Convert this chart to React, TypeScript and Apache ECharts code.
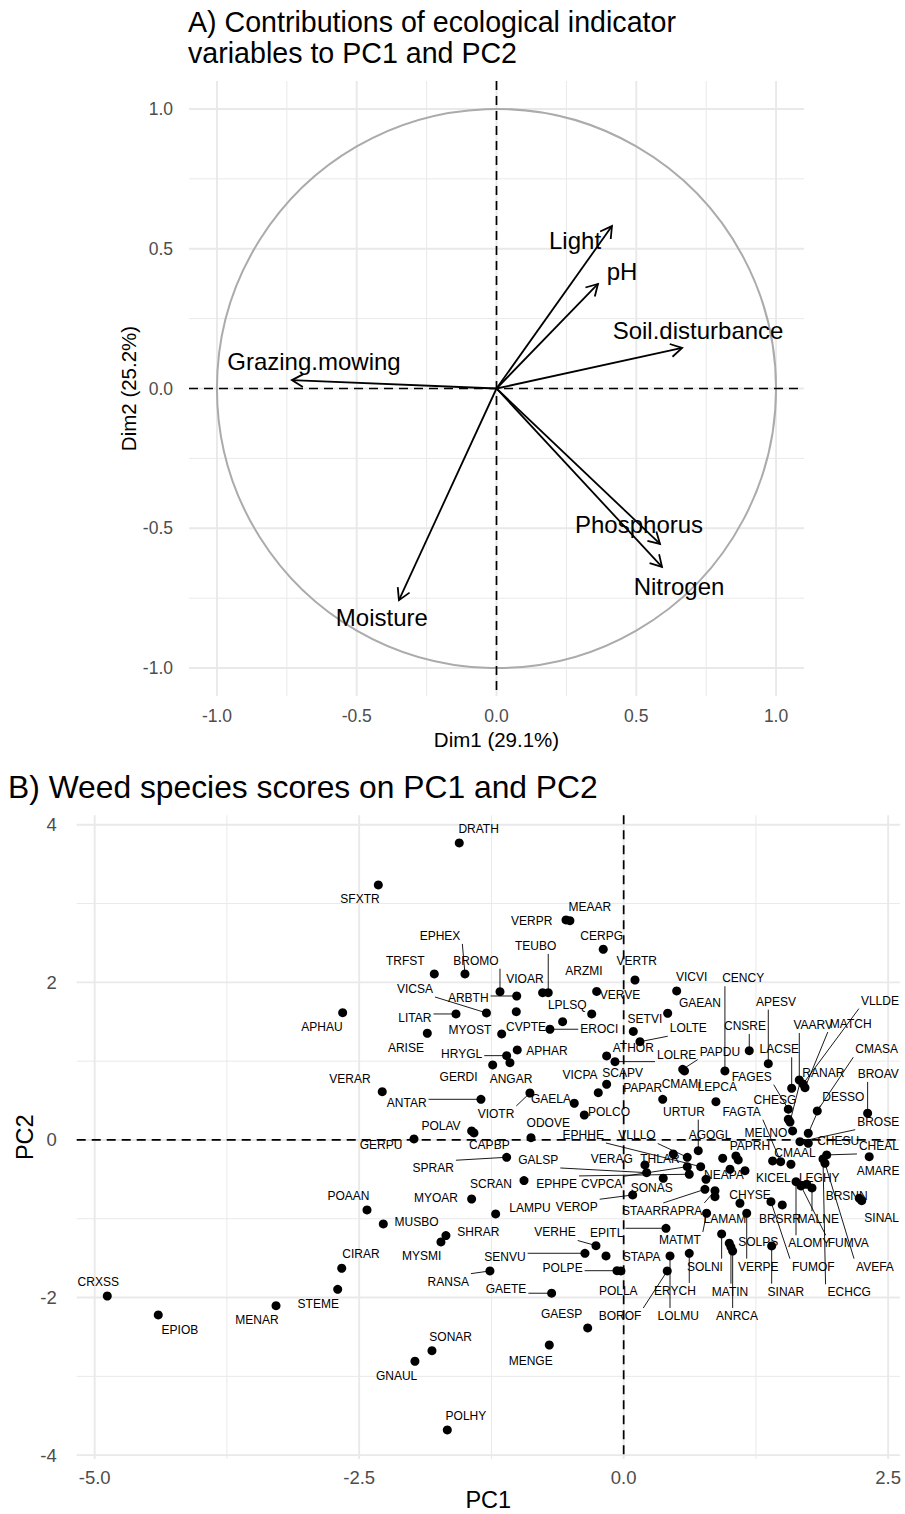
import React, { useEffect, useRef } from "react";
import * as echarts from "echarts";

// ---------- Panel A: variable contributions ----------
const varNames = ["Light", "pH", "Soil.disturbance", "Grazing.mowing", "Phosphorus", "Nitrogen", "Moisture"];
const varDim1 = [0.413, 0.363, 0.664, -0.732, 0.585, 0.592, -0.349];
const varDim2 = [0.581, 0.374, 0.145, 0.03, -0.556, -0.638, -0.757];
const varLabelDim1 = [0.281, 0.449, 0.721, -0.653, 0.51, 0.653, -0.41];
const varLabelDim2 = [0.531, 0.417, 0.209, 0.098, -0.488, -0.707, -0.818];
const dimTicks = [-1, -0.5, 0, 0.5, 1];
const dimMinorTicks = [-0.75, -0.25, 0.25, 0.75];

// ---------- Panel B: species scores ----------
const species = [
  "DRATH", "SFXTR", "VERPR", "MEAAR", "CERPG", "EPHEX", "TRFST", "BROMO", "TEUBO", "VIOAR",
  "ARZMI", "VERVE", "VERTR", "VICVI", "GAEAN", "ARBTH", "VICSA", "LITAR", "APHAU", "CVPTE",
  "MYOST", "LPLSQ", "EROCI", "SETVI", "LOLTE", "ARISE", "HRYGL", "APHAR", "ANGAR", "GERDI",
  "VERAR", "ANTAR", "VIOTR", "GAELA", "VICPA", "SCAPV", "ATHOR", "LOLRE", "PAPDU", "CENCY",
  "CNSRE", "APESV", "LACSE", "VAARV", "MATCH", "VLLDE", "CMASA", "RANAR", "FAGES", "BROAV",
  "CHESG", "DESSO", "BROSE", "MELNO", "CHESU", "CHEAL", "AMARE", "CMAMI", "PAPAR", "LEPCA",
  "URTUR", "FAGTA", "POLCO", "ODOVE", "POLAV", "CAPBP", "GERPU", "EPHHE", "VLLLO", "AGOGL",
  "PAPRH", "CMAAL", "SPRAR", "GALSP", "VERAG", "THLAR", "NEAPA", "KICEL", "LEGHY", "SCRAN",
  "EPHPE", "CVPCA", "SONAS", "CHYSE", "BRSNN", "POAAN", "MYOAR", "LAMPU", "VEROP", "STAAR",
  "RAPRA", "LAMAM", "BRSRR", "MALNE", "SINAL", "MUSBO", "SHRAR", "VERHE", "EPITL", "MATMT",
  "SOLPS", "ALOMY", "FUMVA", "CIRAR", "MYSMI", "SENVU", "STAPA", "SOLNI", "VERPE", "FUMOF",
  "AVEFA", "CRXSS", "POLPE", "RANSA", "GAETE", "POLLA", "ERYCH", "MATIN", "SINAR", "ECHCG",
  "EPIOB", "MENAR", "STEME", "GAESP", "BOROF", "LOLMU", "ANRCA", "SONAR", "MENGE", "GNAUL",
  "POLHY", "", "", "",
];
const pc1 = [
  -1.554, -2.319, -0.545, -0.508, -0.193, -1.5, -1.79, -1.169, -0.713, -0.766,
  -0.255, -0.302, 0.107, 0.501, 0.416, -1.011, -1.297, -1.585, -2.656, -1.015,
  -1.153, -0.577, -0.697, 0.091, 0.154, -1.856, -1.106, -1.006, -1.075, -1.238,
  -2.282, -1.349, -0.886, -0.467, -0.24, -0.161, -0.161, -0.082, 0.558, 0.957,
  1.187, 1.367, 1.588, 1.66, 1.714, 1.695, 1.83, 1.572, 1.556, 2.306,
  1.556, 1.745, 1.666, 1.597, 1.745, 1.919, 2.321, 0.575, 0.369, 0.872,
  0.705, 1.484, -0.372, -0.876, -1.437, -1.415, -1.982, 0.728, 0.601, 0.936,
  1.061, 1.581, -1.106, 0.217, 0.201, 0.469, 0.778, 1.408, 1.73, -0.942,
  0.62, 0.601, 0.374, 1.099, 2.227, -2.426, -1.437, -1.21, 0.085, 0.768,
  0.863, 0.863, 1.499, 1.78, 2.25, -2.272, -1.68, -0.262, 0.4, 0.784,
  0.998, 1.629, 1.676, -2.665, -1.727, -0.366, -0.167, 0.926, 1.163, 1.392,
  1.903, -4.881, -0.063, -1.264, -0.681, -0.026, 0.62, 1.014, 1.399, 1.884,
  -4.399, -3.286, -2.703, -0.34, 0.412, 0.438, 1.03, -1.812, -0.703, -1.973,
  -1.667, 1.083, 1.005, 1.147,
];
const pc2 = [
  3.769, 3.236, 2.792, 2.783, 2.42, 2.107, 2.107, 1.882, 1.869, 1.869,
  1.885, 1.599, 2.03, 1.891, 1.608, 1.827, 1.612, 1.599, 1.615, 1.628,
  1.345, 1.501, 1.405, 1.377, 1.247, 1.354, 1.07, 1.142, 0.981, 0.952,
  0.613, 0.516, 0.596, 0.466, 0.6, 0.707, 1.066, 0.994, 0.897, 0.876,
  1.133, 0.968, 0.656, 0.761, 0.664, 0.711, 0.368, 0.228, 0.39, 0.339,
  0.263, 0.085, -0.022, 0.114, -0.042, -0.19, -0.212, 0.876, 0.516, 0.486,
  -0.136, -0.275, 0.317, 0.029, 0.114, 0.089, 0.013, -0.339, -0.22, -0.232,
  -0.203, -0.308, -0.22, -0.415, -0.317, -0.178, -0.499, -0.266, -0.562, -0.516,
  -0.435, -0.339, -0.486, -0.803, -0.74, -0.888, -0.749, -0.939, -0.698, -0.626,
  -0.643, -0.72, -0.825, -0.609, -0.77, -1.066, -1.214, -1.341, -1.121, -0.93,
  -1.311, -0.529, -0.584, -1.628, -1.294, -1.438, -1.472, -1.193, -0.93, -0.783,
  -0.296, -1.98, -1.659, -1.662, -1.945, -1.662, -1.438, -1.358, -1.345, -0.241,
  -2.221, -2.103, -1.895, -2.386, -1.662, -1.472, -1.409, -2.674, -2.602, -2.808,
  -3.68, -0.254, -0.372, -0.39,
];
const labelPc1 = [
  -1.371, -2.492, -0.87, -0.319, -0.208, -1.736, -2.064, -1.396, -0.832, -0.933,
  -0.375, -0.035, 0.123, 0.643, 0.721, -1.469, -1.973, -1.973, -2.852, -0.923,
  -1.453, -0.533, -0.231, 0.201, 0.611, -2.058, -1.531, -0.725, -1.065, -1.56,
  -2.587, -2.051, -1.207, -0.687, -0.413, -0.009, 0.091, 0.501, 0.91, 1.13,
  1.147, 1.44, 1.471, 1.792, 2.146, 2.422, 2.391, 1.887, 1.21, 2.406,
  1.43, 2.076, 2.406, 1.345, 2.028, 2.413, 2.406, 0.548, 0.18, 0.885,
  0.57, 1.115, -0.139, -0.713, -1.727, -1.27, -2.294, -0.382, 0.126, 0.816,
  1.194, 1.619, -1.8, -0.807, -0.113, 0.343, 0.948, 1.414, 1.849, -1.254,
  -0.633, -0.208, 0.265, 1.194, 2.108, -2.601, -1.774, -0.886, -0.444, 0.17,
  0.548, 0.957, 1.477, 1.839, 2.439, -1.957, -1.374, -0.649, -0.161, 0.532,
  1.272, 1.754, 2.123, -2.483, -1.909, -1.122, 0.17, 0.768, 1.272, 1.792,
  2.375, -4.966, -0.577, -1.658, -1.112, -0.051, 0.485, 1.005, 1.534, 2.132,
  -4.194, -3.466, -2.887, -0.586, -0.035, 0.516, 1.071, -1.635, -0.879, -2.146,
  -1.491, 1.083, 1.005, 1.147,
];
const labelPc2 = [
  3.947, 3.058, 2.779, 2.961, 2.589, 2.589, 2.275, 2.275, 2.462, 2.043,
  2.148, 1.84, 2.275, 2.065, 1.739, 1.798, 1.916, 1.544, 1.434, 1.438,
  1.396, 1.713, 1.405, 1.532, 1.418, 1.171, 1.091, 1.133, 0.77, 0.799,
  0.77, 0.473, 0.33, 0.516, 0.825, 0.854, 1.164, 1.079, 1.121, 2.052,
  1.447, 1.755, 1.151, 1.459, 1.472, 1.768, 1.151, 0.846, 0.803, 0.838,
  0.508, 0.539, 0.232, 0.093, -0.009, -0.076, -0.393, 0.711, 0.664, 0.669,
  0.359, 0.359, 0.359, 0.212, 0.178, -0.063, -0.063, 0.063, 0.057, 0.057,
  -0.08, -0.169, -0.359, -0.254, -0.247, -0.245, -0.444, -0.486, -0.486, -0.558,
  -0.558, -0.562, -0.613, -0.698, -0.711, -0.711, -0.732, -0.863, -0.854, -0.901,
  -0.901, -1.006, -1.006, -1.006, -0.994, -1.037, -1.171, -1.174, -1.176, -1.269,
  -1.291, -1.311, -1.311, -1.451, -1.468, -1.489, -1.481, -1.608, -1.608, -1.608,
  -1.608, -1.806, -1.628, -1.798, -1.895, -1.916, -1.916, -1.925, -1.925, -1.933,
  -2.411, -2.284, -2.085, -2.208, -2.234, -2.234, -2.234, -2.496, -2.801, -2.995,
  -3.503, -0.254, -0.372, -0.39,
];
const pcXTicks = [-5, -2.5, 0, 2.5];
const pcXMinor = [-3.75, -1.25, 1.25];
const pcYTicks = [-4, -2, 0, 2, 4];
const pcYMinor = [-3, -1, 1, 3];

const FONT = '"Liberation Sans", Arial, sans-serif';
const GRID_COLOR = "#e9e9e9";

function measure(text: string, size: number): number {
  const ctx = document.createElement("canvas").getContext("2d");
  if (!ctx) return text.length * size * 0.66;
  ctx.font = `${size}px ${FONT}`;
  return ctx.measureText(text).width;
}

function lineSeries(idx: number, dir: "v" | "h", values: number[], color: string, width: number, z: number, dash?: number[]) {
  return {
    type: "custom",
    xAxisIndex: idx,
    yAxisIndex: idx,
    silent: true,
    z,
    data: values.map((v) => (dir === "v" ? [v, 0] : [0, v])),
    renderItem: (params: any, api: any) => {
      const cs = params.coordSys;
      const p = api.coord([api.value(0), api.value(1)]);
      const shape =
        dir === "v"
          ? { x1: p[0], y1: cs.y, x2: p[0], y2: cs.y + cs.height }
          : { x1: cs.x, y1: p[1], x2: cs.x + cs.width, y2: p[1] };
      return { type: "line", shape, style: { stroke: color, lineWidth: width, lineDash: dash || null } };
    },
  };
}

function axisCommon(
  name: string,
  ticks: number[],
  min: number,
  max: number,
  grid: number,
  gap: number,
  fmt: (v: number) => string,
  margin: number,
  tickSize: number,
  titleSize: number
) {
  return {
    type: "value",
    gridIndex: grid,
    min,
    max,
    axisLine: { show: false },
    axisTick: { show: false },
    splitLine: { show: false },
    axisLabel: {
      customValues: ticks,
      formatter: (v: number) => fmt(v),
      color: "#4d4d4d",
      fontSize: tickSize,
      fontFamily: FONT,
      margin,
    },
    name,
    nameLocation: "middle",
    nameGap: gap,
    nameMoveOverlap: false,
    nameTextStyle: { fontSize: titleSize, color: "#000", fontFamily: FONT },
  };
}

function buildOption() {
  const labelWidths = species.map((s) => (s ? measure(s, 12) : 0));
  const fmt1 = (v: number) => v.toFixed(1);
  const fmt0 = (v: number) => String(v);

  return {
    animation: false,
    backgroundColor: "#ffffff",
    title: [
      {
        text: "A) Contributions of ecological indicator\nvariables to PC1 and PC2",
        left: 188,
        top: 6,
        padding: 0,
        textStyle: { fontSize: 28.6, fontWeight: "normal", fontFamily: FONT, color: "#000", lineHeight: 31 },
      },
      {
        text: "B) Weed species scores on PC1 and PC2",
        left: 8,
        top: 770,
        padding: 0,
        textStyle: { fontSize: 31.8, fontWeight: "normal", fontFamily: FONT, color: "#000", lineHeight: 34 },
      },
    ],
    grid: [
      { left: 189, top: 81, width: 615, height: 615 },
      { left: 76.7, top: 815.3, width: 823.1, height: 643.8 },
    ],
    xAxis: [
      axisCommon("Dim1 (29.1%)", dimTicks, -1.1, 1.1, 0, 33, fmt1, 11, 17.5, 20.5),
      axisCommon("PC1", pcXTicks, -5.17, 2.61, 1, 29, fmt1, 9, 18.5, 23.5),
    ],
    yAxis: [
      axisCommon("Dim2 (25.2%)", dimTicks, -1.1, 1.1, 0, 50, fmt1, 16, 17.5, 20.5),
      axisCommon("PC2", pcYTicks, -4.05, 4.12, 1, 40, fmt0, 20, 18.5, 23.5),
    ],
    series: [
      // Panel A grid
      lineSeries(0, "v", dimMinorTicks, GRID_COLOR, 1, 1),
      lineSeries(0, "h", dimMinorTicks, GRID_COLOR, 1, 1),
      lineSeries(0, "v", dimTicks, GRID_COLOR, 1.9, 1),
      lineSeries(0, "h", dimTicks, GRID_COLOR, 1.9, 1),
      {
        type: "custom",
        xAxisIndex: 0,
        yAxisIndex: 0,
        silent: true,
        z: 2,
        data: [[0, 0]],
        renderItem: (params: any, api: any) => {
          const c = api.coord([0, 0]);
          const r = api.size([1, 1])[0];
          return { type: "circle", shape: { cx: c[0], cy: c[1], r }, style: { fill: "none", stroke: "#ababab", lineWidth: 2 } };
        },
      },
      lineSeries(0, "v", [0], "#000", 1.7, 3, [9, 6]),
      lineSeries(0, "h", [0], "#000", 1.7, 3, [9, 6]),
      {
        type: "custom",
        xAxisIndex: 0,
        yAxisIndex: 0,
        silent: true,
        z: 4,
        data: varDim1.map((x, i) => [x, varDim2[i], varLabelDim1[i], varLabelDim2[i]]),
        renderItem: (params: any, api: any) => {
          const i = params.dataIndex;
          const o = api.coord([0, 0]);
          const t = api.coord([api.value(0), api.value(1)]);
          const lab = api.coord([api.value(2), api.value(3)]);
          const ang = Math.atan2(t[1] - o[1], t[0] - o[0]);
          const L = 13;
          const a = Math.PI / 6;
          const h1 = [t[0] - L * Math.cos(ang - a), t[1] - L * Math.sin(ang - a)];
          const h2 = [t[0] - L * Math.cos(ang + a), t[1] - L * Math.sin(ang + a)];
          return {
            type: "group",
            children: [
              { type: "line", shape: { x1: o[0], y1: o[1], x2: t[0], y2: t[1] }, style: { stroke: "#000", lineWidth: 1.8 } },
              { type: "polyline", shape: { points: [h1, t, h2] }, style: { stroke: "#000", lineWidth: 1.8, fill: "none" } },
              {
                type: "text",
                style: { text: varNames[i], x: lab[0], y: lab[1], align: "center", verticalAlign: "middle", font: `24px ${FONT}`, fill: "#000" },
              },
            ],
          };
        },
      },
      // Panel B grid
      lineSeries(1, "v", pcXMinor, GRID_COLOR, 1, 1),
      lineSeries(1, "h", pcYMinor, GRID_COLOR, 1, 1),
      lineSeries(1, "v", pcXTicks, GRID_COLOR, 1.9, 1),
      lineSeries(1, "h", pcYTicks, GRID_COLOR, 1.9, 1),
      lineSeries(1, "v", [0], "#000", 1.7, 3, [9, 6]),
      lineSeries(1, "h", [0], "#000", 1.7, 3, [9, 6]),
      {
        type: "custom",
        xAxisIndex: 1,
        yAxisIndex: 1,
        silent: true,
        z: 5,
        data: species.map((s, i) => [pc1[i], pc2[i], labelPc1[i], labelPc2[i]]),
        renderItem: (params: any, api: any) => {
          const i = params.dataIndex;
          const name = species[i];
          if (!name) return { type: "group", children: [] };
          const p = api.coord([api.value(0), api.value(1)]);
          const c = api.coord([api.value(2), api.value(3)]);
          const hw = labelWidths[i] / 2 + 2;
          const hh = 8;
          const nx = Math.min(Math.max(p[0], c[0] - hw), c[0] + hw);
          const ny = Math.min(Math.max(p[1], c[1] - hh), c[1] + hh);
          const d = Math.hypot(p[0] - nx, p[1] - ny);
          const children: any[] = [];
          if (d > 15.5) {
            children.push({ type: "line", shape: { x1: nx, y1: ny, x2: p[0], y2: p[1] }, style: { stroke: "#000", lineWidth: 0.9 } });
          }
          children.push({
            type: "text",
            style: { text: name, x: c[0], y: c[1], align: "center", verticalAlign: "middle", font: `12px ${FONT}`, fill: "#000" },
          });
          return { type: "group", children };
        },
      },
      {
        type: "scatter",
        xAxisIndex: 1,
        yAxisIndex: 1,
        silent: true,
        z: 6,
        symbol: "circle",
        symbolSize: 9,
        itemStyle: { color: "#000", opacity: 1 },
        data: pc1.map((x, i) => [x, pc2[i]]),
      },
    ],
  };
}

export default function App() {
  const ref = useRef<HTMLDivElement>(null);
  useEffect(() => {
    if (!ref.current) return;
    const chart = echarts.init(ref.current, null, { renderer: "svg" });
    chart.setOption(buildOption() as any);
    return () => chart.dispose();
  }, []);
  return (
    <div
      ref={ref}
      style={{ position: "fixed", left: 0, top: 0, width: 905, height: 1514, background: "#ffffff" }}
    />
  );
}
